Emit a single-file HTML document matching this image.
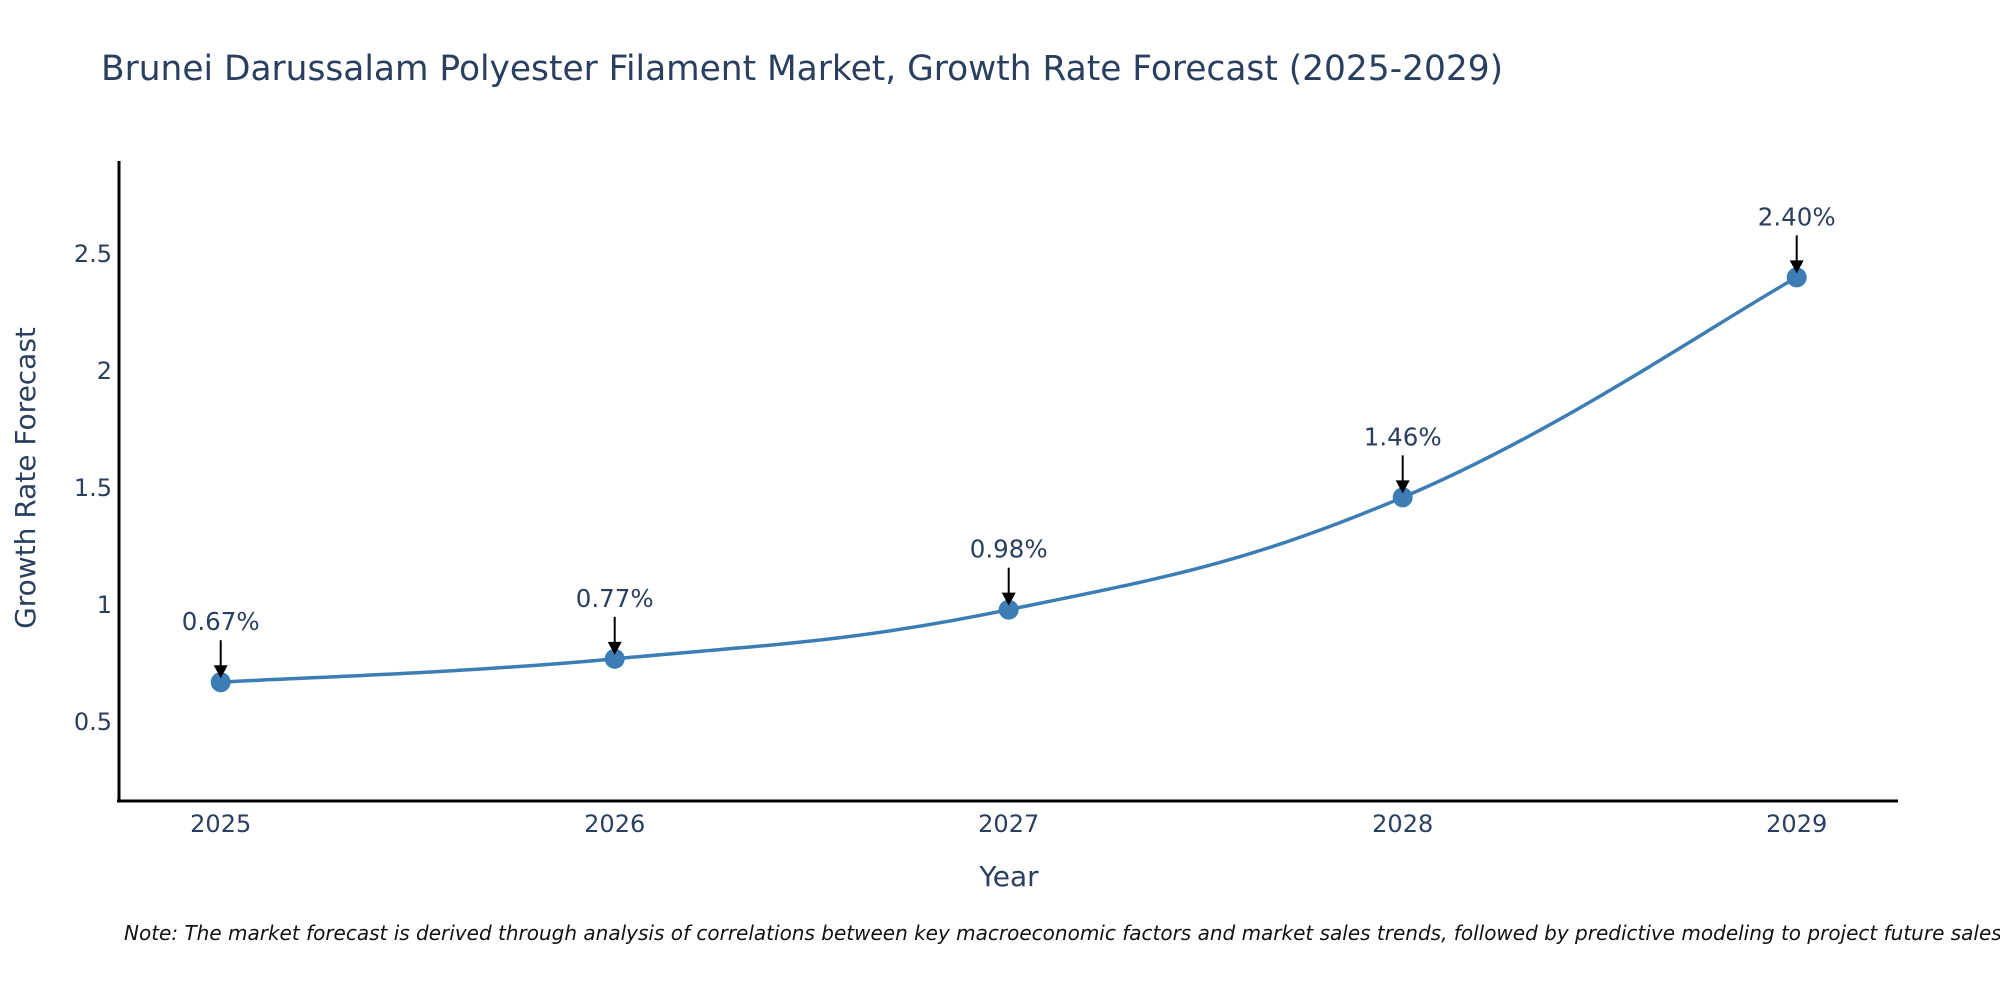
<!DOCTYPE html>
<html><head><meta charset="utf-8"><style>
body{margin:0;background:#fff;}
svg text{font-family:"DejaVu Sans","Liberation Sans",sans-serif;fill:#2a3f5f;}
</style></head><body>
<svg id="chart" width="2000" height="1000" xmlns="http://www.w3.org/2000/svg">
<text x="101" y="80" font-size="34.4">Brunei Darussalam Polyester Filament Market, Growth Rate Forecast (2025-2029)</text>
<g id="yticks"></g>
<g id="xticks"></g>
<line x1="119" y1="161" x2="119" y2="802" stroke="#000" stroke-width="3"/>
<line x1="117" y1="801" x2="1898" y2="801" stroke="#000" stroke-width="3"/>
<text transform="translate(35,478) rotate(-90)" text-anchor="middle" font-size="28">Growth Rate Forecast</text>
<text x="1009" y="886" text-anchor="middle" font-size="28">Year</text>
<g id="series"></g>
<g id="annots"></g>
<text x="124" y="940" font-size="20" font-style="italic" style="fill:#111">Note: The market forecast is derived through analysis of correlations between key macroeconomic factors and market sales trends, followed by predictive modeling to project future sales.</text>
</svg>
<script>
const years = [2025, 2026, 2027, 2028, 2029];
const values = [0.67, 0.77, 0.98, 1.46, 2.40];
const labels = ["0.67%", "0.77%", "0.98%", "1.46%", "2.40%"];
const yTicks = [0.5, 1, 1.5, 2, 2.5];
const yTickLabels = ["0.5", "1", "1.5", "2", "2.5"];

const NS = "http://www.w3.org/2000/svg";
function X(yr){ return 220.7 + (yr - 2025) * 394; }
function Y(v){ return 722 - (v - 0.5) * 234; }
function mk(tag, attrs, parent){ const e = document.createElementNS(NS, tag); for (const k in attrs) e.setAttribute(k, attrs[k]); parent.appendChild(e); return e; }

const yg = document.getElementById('yticks');
yTicks.forEach((t, i) => {
  const tx = mk('text', {x: 112, y: Y(t) + 8, 'text-anchor': 'end', 'font-size': 24}, yg);
  
  
  tx.textContent = yTickLabels[i];
});
const xg = document.getElementById('xticks');
years.forEach(yr => {
  const tx = mk('text', {x: X(yr), y: 832, 'text-anchor': 'middle', 'font-size': 24}, xg);
  
  
  tx.textContent = String(yr);
});

const pts = years.map((yr, i) => [X(yr), Y(values[i])]);
let d = `M${pts[0][0]},${pts[0][1]}`;
const s = 0.2;
for (let i = 0; i < pts.length - 1; i++) {
  const p0 = pts[Math.max(i - 1, 0)], p1 = pts[i], p2 = pts[i + 1], p3 = pts[Math.min(i + 2, pts.length - 1)];
  const c1 = [p1[0] + (p2[0] - p0[0]) * s, p1[1] + (p2[1] - p0[1]) * s];
  const c2 = [p2[0] - (p3[0] - p1[0]) * s, p2[1] - (p3[1] - p1[1]) * s];
  d += ` C${c1[0]},${c1[1]} ${c2[0]},${c2[1]} ${p2[0]},${p2[1]}`;
}
const sg = document.getElementById('series');
const path = mk('path', {d: d, fill: 'none', stroke: '#3b7db4', 'stroke-width': 3.5}, sg);


pts.forEach(p => {
  const c = mk('circle', {cx: p[0], cy: p[1], r: 10, fill: '#3b7db4'}, sg);
  
  
});

const ag = document.getElementById('annots');
pts.forEach((p, i) => {
  const ln = mk('line', {x1: p[0], y1: p[1] - 42, x2: p[0], y2: p[1] - 14, stroke: '#000', 'stroke-width': 2}, ag);
  
  
  const hd = mk('polygon', {points: `${p[0]-7},${p[1]-17} ${p[0]+7},${p[1]-17} ${p[0]},${p[1]-4}`, fill: '#000'}, ag);
  
  
  const tx = mk('text', {x: p[0], y: p[1] - 52, 'text-anchor': 'middle', 'font-size': 24.5}, ag);
  
  
  tx.textContent = labels[i];
});
</script>
</body></html>
